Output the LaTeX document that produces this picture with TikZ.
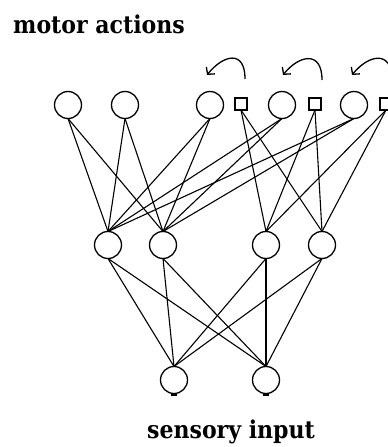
\documentclass[tikz,border=0pt]{standalone}
\usepackage{fontspec}
\newfontfamily\lblfont{DejaVu Serif}[FakeStretch=0.9]
\usetikzlibrary{arrows.meta}
\begin{document}
\begin{tikzpicture}[x=1pt,y=-1pt,
  unit/.style={circle,draw,line width=1.3pt,minimum size=27pt,inner sep=0pt,outer sep=0pt},
  ctx/.style={rectangle,draw,line width=1.3pt,minimum size=12pt,inner sep=0pt,outer sep=0pt},
  link/.style={line width=1.1pt},
  recur/.style={line width=1.3pt,-{Straight Barb[length=5pt,width=11pt]}},
  dashmark/.style={line width=2.2pt},
  lbl/.style={font=\lblfont\bfseries\fontsize{24.5}{24.5}\selectfont,inner sep=0pt}]
\useasboundingbox (0,0) rectangle (388,447);
% top layer
\node[unit] (t1) at (68,105) {};
\node[unit] (t2) at (125,105) {};
\node[unit] (t3) at (210,105) {};
\node[ctx]  (s1) at (241,104) {};
\node[unit] (t4) at (282,105) {};
\node[ctx]  (s2) at (315,104) {};
\node[unit] (t5) at (354,105) {};
\node[ctx]  (s3) at (386,104) {};
% hidden layer
\node[unit] (h1) at (108,245) {};
\node[unit] (h2) at (163,245) {};
\node[unit] (h3) at (266,245) {};
\node[unit] (h4) at (322,245) {};
% bottom layer
\node[unit] (b1) at (174,380) {};
\node[unit] (b2) at (266,380) {};
% connections
\foreach \a in {t1,t2,t3,t4,t5}{\foreach \b in {h1,h2}{\draw[link] (\a.south) -- (\b.north);}}
\foreach \a in {s1,s2,s3}{\foreach \b in {h3,h4}{\draw[link] (\a.south) -- (\b.north);}}
\foreach \a in {h1,h2,h3,h4}{\foreach \b in {b1,b2}{\draw[link] (\a.south) -- (\b.north);}}
% small marks under bottom units
\draw[dashmark] ([xshift=-3pt,yshift=-1pt]b1.south) -- ([xshift=3pt,yshift=-1pt]b1.south);
\draw[dashmark] ([xshift=-3pt,yshift=-1pt]b2.south) -- ([xshift=3pt,yshift=-1pt]b2.south);
% recurrent arcs
\coordinate (r1s) at (245,79); \coordinate (r1e) at (207,75);
\coordinate (r2s) at (322,80); \coordinate (r2e) at (283,75);
\coordinate (r3s) at (392,80); \coordinate (r3e) at (352,75);
\draw[recur] (r1s) .. controls (245,49) and (223,55) .. (r1e);
\draw[recur] (r2s) .. controls (322,50) and (299,55) .. (r2e);
\draw[recur] (r3s) .. controls (392,49) and (368,55) .. (r3e);
% labels
\node[lbl,anchor=base west] (top) at (13,33) {motor actions};
\node[lbl,anchor=base] (bot) at (231,438) {sensory input};
\end{tikzpicture}
\end{document}
